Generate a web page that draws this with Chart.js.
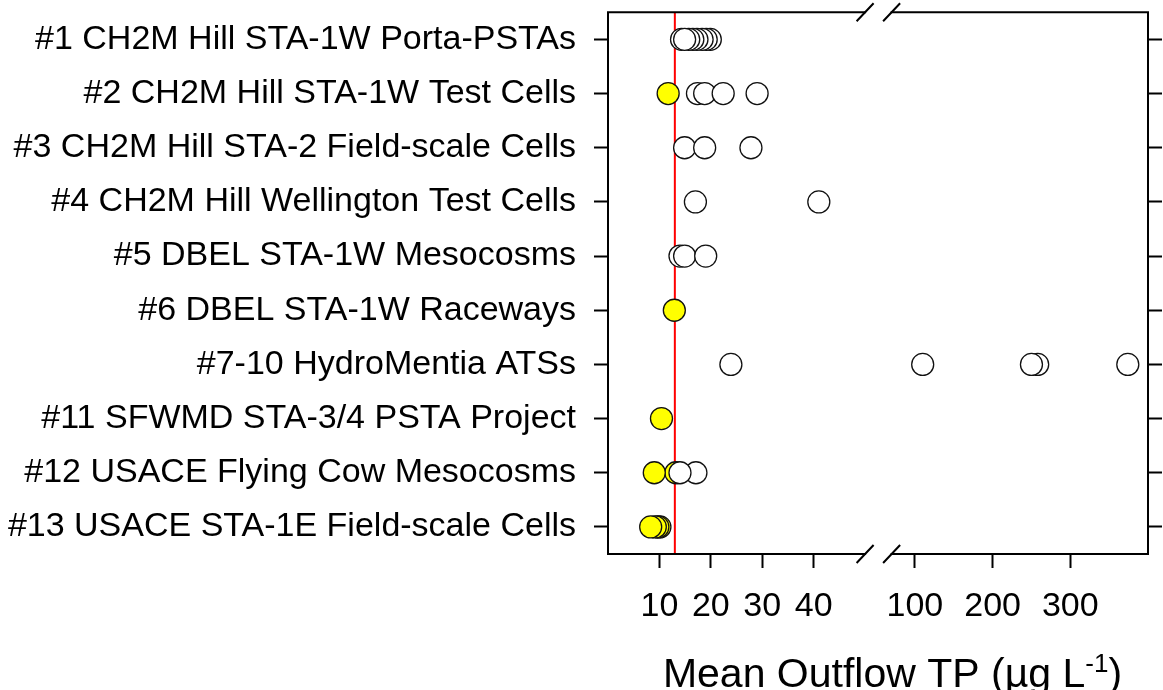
<!DOCTYPE html>
<html>
<head>
<meta charset="utf-8">
<script src="https://cdn.jsdelivr.net/npm/chart.js@4.4.1/dist/chart.umd.min.js"></script>
<style>
  body { margin: 0; background: #fff; }
  #wrap { width: 1163px; height: 690px; }
</style>
</head>
<body>
<div id="wrap"><canvas id="dotChart" width="1163" height="690"></canvas></div>
<script>
const siteLabels = [
  "#1 CH2M Hill STA-1W Porta-PSTAs",
  "#2 CH2M Hill STA-1W Test Cells",
  "#3 CH2M Hill STA-2 Field-scale Cells",
  "#4 CH2M Hill Wellington Test Cells",
  "#5 DBEL STA-1W Mesocosms",
  "#6 DBEL STA-1W Raceways",
  "#7-10 HydroMentia ATSs",
  "#11 SFWMD STA-3/4 PSTA Project",
  "#12 USACE Flying Cow Mesocosms",
  "#13 USACE STA-1E Field-scale Cells"
];

// mean outflow TP per system, ug/L (open = above target, filled = at/below)
const openValues = [
  [19.9, 19.1, 18.3, 17.3, 16.5, 15.7, 14.3, 14.9],
  [17.4, 18.8, 22.4, 29.0],
  [14.9, 18.8, 27.8],
  [17.0, 41.0],
  [14.0, 14.9, 19.0],
  [],
  [23.9, 110, 258, 250, 374],
  [],
  [17.1, 14.0],
  []
];
const filledValues = [
  [],
  [11.7],
  [],
  [],
  [],
  [12.9],
  [],
  [10.4],
  [13.2, 9.0],
  [10.1, 9.7, 9.2, 8.3]
];

const xTickValues = [10, 20, 30, 40, 100, 200, 300];
const targetTP = 13;
const breakFrom = 50;
const breakTo = 70;

// axis break: left part [min, breakFrom], right part [breakTo, max]
const breakStart = 0.4761;
const breakEnd = 0.5252;

class BrokenLinearScale extends Chart.LinearScale {
  getPixelForValue(value) {
    const w = this.right - this.left;
    let p;
    if (value <= breakFrom) {
      p = (value - this.min) / (breakFrom - this.min) * breakStart;
    } else {
      p = breakEnd + (value - breakTo) / (this.max - breakTo) * (1 - breakEnd);
    }
    return this.left + p * w;
  }
  getValueForPixel(pixel) {
    const p = (pixel - this.left) / (this.right - this.left);
    if (p <= breakStart) return this.min + p / breakStart * (breakFrom - this.min);
    return breakTo + (p - breakEnd) / (1 - breakEnd) * (this.max - breakTo);
  }
}
BrokenLinearScale.id = "brokenLinear";
BrokenLinearScale.defaults = Chart.LinearScale.defaults;
Chart.register(BrokenLinearScale);

function toPoints(rows) {
  const pts = [];
  rows.forEach((vals, i) => {
    vals.forEach((v) => pts.push({ x: v, y: siteLabels[i] }));
  });
  return pts;
}

function noPad(scale) {
  scale.paddingTop = 0;
  scale.paddingBottom = 0;
  scale.paddingLeft = 0;
  scale.paddingRight = 0;
}

const framePlugin = {
  id: "frame",
  beforeDatasetsDraw(chart) {
    const { ctx, chartArea } = chart;
    const x = chart.scales.x.getPixelForValue(targetTP);
    ctx.save();
    ctx.strokeStyle = "#ff0000";
    ctx.lineWidth = 2;
    ctx.beginPath();
    ctx.moveTo(x, chartArea.top);
    ctx.lineTo(x, chartArea.bottom);
    ctx.stroke();
    ctx.restore();
  },
  afterDraw(chart) {
    const { ctx, chartArea } = chart;
    const xs = chart.scales.x;
    const gl = xs.getPixelForValue(breakFrom);
    const gr = xs.getPixelForValue(breakTo);
    const { left, right, top, bottom } = chartArea;
    ctx.save();
    ctx.strokeStyle = "#000";
    ctx.lineWidth = 2;
    ctx.lineCap = "square";
    ctx.beginPath();
    ctx.moveTo(gl, top); ctx.lineTo(left, top); ctx.lineTo(left, bottom); ctx.lineTo(gl, bottom);
    ctx.moveTo(gr, top); ctx.lineTo(right, top); ctx.lineTo(right, bottom); ctx.lineTo(gr, bottom);
    ctx.stroke();
    ctx.lineCap = "butt";
    ctx.beginPath();
    [top, bottom].forEach((y) => {
      [gl, gr].forEach((x) => {
        ctx.moveTo(x - 8.5, y + 9);
        ctx.lineTo(x + 8.5, y - 9);
      });
    });
    ctx.stroke();

    // axis title with superscript
    const fam = "'Liberation Sans', Arial, sans-serif";
    const main = "Mean Outflow TP (\u00b5g L";
    const sup = "-1";
    const close = ")";
    ctx.fillStyle = "#000";
    ctx.textBaseline = "alphabetic";
    ctx.textAlign = "left";
    ctx.font = "41px " + fam;
    const w1 = ctx.measureText(main).width;
    const w3 = ctx.measureText(close).width;
    ctx.font = "26px " + fam;
    const w2 = ctx.measureText(sup).width;
    const cx = 892.5;
    const baseY = 687;
    let x0 = cx - (w1 + w2 + w3) / 2;
    ctx.font = "41px " + fam;
    ctx.fillText(main, x0, baseY);
    ctx.font = "26px " + fam;
    ctx.fillText(sup, x0 + w1, baseY - 15);
    ctx.font = "41px " + fam;
    ctx.fillText(close, x0 + w1 + w2, baseY);
    ctx.restore();
  }
};

Chart.defaults.font.family = "'Liberation Sans', Arial, sans-serif";
Chart.defaults.color = "#000";

new Chart(document.getElementById("dotChart"), {
  type: "scatter",
  data: {
    datasets: [
      {
        label: "Above target",
        data: toPoints(openValues),
        backgroundColor: "#ffffff",
        borderColor: "#111",
        borderWidth: 1.3,
        pointRadius: 11,
        pointHoverRadius: 11,
      },
      {
        label: "At or below target",
        data: toPoints(filledValues),
        backgroundColor: "#ffff00",
        borderColor: "#111",
        borderWidth: 1.3,
        pointRadius: 11,
        pointHoverRadius: 11,
      },
    ],
  },
  options: {
    responsive: false,
    devicePixelRatio: 1,
    animation: false,
    layout: { padding: { top: 12, left: 0, right: 0, bottom: 0 } },
    plugins: {
      legend: { display: false },
      tooltip: { enabled: false },
    },
    scales: {
      x: {
        type: "brokenLinear",
        position: "bottom",
        min: 0,
        max: 400,
        afterBuildTicks: (scale) => {
          scale.ticks = xTickValues.map((v) => ({ value: v }));
        },
        afterFit: (scale) => { scale.height = 136; noPad(scale); },
        grid: {
          drawOnChartArea: false,
          drawTicks: true,
          tickLength: 14,
          tickWidth: 2,
          tickColor: "#000",
        },
        border: { display: false },
        ticks: {
          autoSkip: false,
          maxRotation: 0,
          padding: 18,
          font: { size: 34 },
          callback: (v) => String(v),
        },
      },
      y: {
        type: "category",
        position: "left",
        labels: siteLabels,
        offset: true,
        afterFit: (scale) => { scale.width = 608; noPad(scale); },
        grid: {
          offset: false,
          drawOnChartArea: false,
          tickLength: 14,
          tickWidth: 2,
          tickColor: "#000",
        },
        border: { display: false },
        ticks: { padding: 18, font: { size: 34 } },
      },
      y2: {
        type: "category",
        position: "right",
        labels: siteLabels,
        offset: true,
        afterFit: (scale) => { scale.width = 15; noPad(scale); },
        grid: {
          offset: false,
          drawOnChartArea: false,
          tickLength: 14,
          tickWidth: 2,
          tickColor: "#000",
        },
        border: { display: false },
        ticks: { display: false },
      },
    },
  },
  plugins: [framePlugin],
});
</script>
</body>
</html>
